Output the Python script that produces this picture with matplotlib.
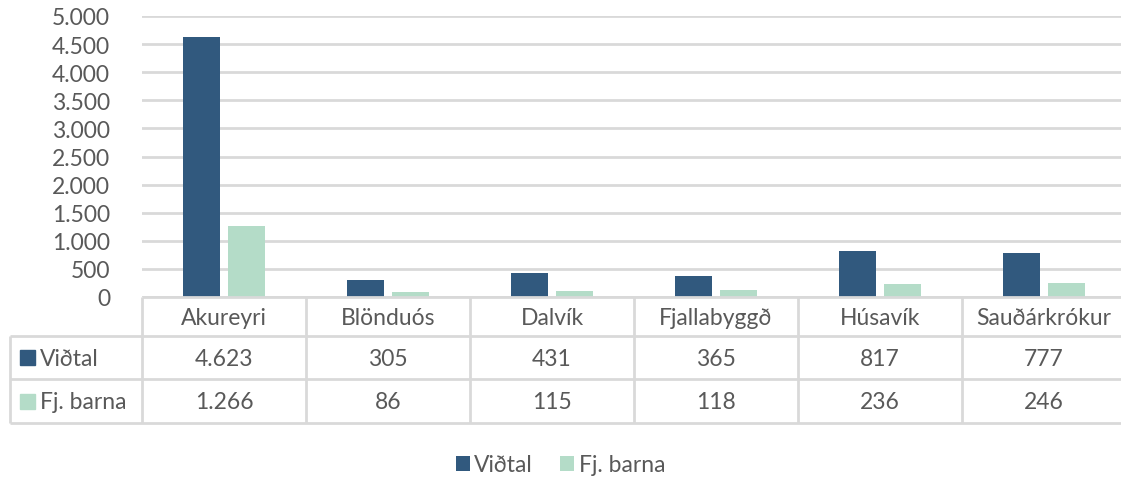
import matplotlib.pyplot as plt
from matplotlib.patches import Rectangle

# Data
towns = ['Akureyri', 'Blönduós', 'Dalvík', 'Fjallabyggð', 'Húsavík', 'Sauðárkrókur']
vidtal = [4623, 305, 431, 365, 817, 777]
born = [1266, 86, 115, 118, 236, 246]
series_names = ['Viðtal', 'Fj. barna']
yticks = [0, 500, 1000, 1500, 2000, 2500, 3000, 3500, 4000, 4500, 5000]

dark = '#31597E'
light = '#B4DCC8'
grid = '#D9D9D9'
txt = '#595959'
fs = 16.5

plt.rcParams['font.family'] = ['Lato', 'DejaVu Sans']

W, H = 1121, 481
fig = plt.figure(figsize=(W / 100, H / 100), dpi=100)


def fy(y):
    return 1 - y / H


# plot area in pixel coordinates
x0, x1 = 142, 1126
ytop, ybot = 17, 298
ax = fig.add_axes([x0 / W, fy(ybot), (x1 - x0) / W, (ybot - ytop) / H])

def fmt(v):
    return f'{v:,}'.replace(',', '.')

pos = list(range(len(towns)))
w = 0.226
off = 0.14
ax.bar([p - off for p in pos], vidtal, w, color=dark, zorder=3, label=series_names[0])
ax.bar([p + off for p in pos], born, w, color=light, zorder=3, label=series_names[1])
ax.set_xlim(-0.5, len(towns) - 0.5)
ax.set_ylim(0, 5000)
ax.set_yticks(yticks)
ax.set_yticklabels([fmt(v) for v in yticks], color=txt, fontsize=fs)
ax.tick_params(axis='y', length=0, pad=23)
ax.set_xticks([])
ax.yaxis.grid(True, color=grid, linewidth=2)
for s in ax.spines.values():
    s.set_visible(False)

# data table drawn in pixel coordinates
tab = fig.add_axes([0, 0, 1, 1], facecolor='none')
tab.set_xlim(0, W)
tab.set_ylim(H, 0)
tab.axis('off')

col_w = (x1 - x0) / len(towns)
rows = [298, 337, 380, 424]
lx = 10
lw = 2
for i, y in enumerate(rows):
    start = x0 if i == 0 else lx
    tab.plot([start, x1], [y, y], color=grid, lw=lw, solid_capstyle='butt')
for k in range(len(towns) + 1):
    xx = x0 + k * col_w
    tab.plot([xx, xx], [rows[0], rows[-1]], color=grid, lw=lw, solid_capstyle='butt')
tab.plot([lx, lx], [rows[1], rows[-1]], color=grid, lw=lw, solid_capstyle='butt')

for k, name in enumerate(towns):
    cx = x0 + (k + 0.5) * col_w
    tab.text(cx, (rows[0] + rows[1]) / 2 + 1, name, ha='center', va='center',
             fontsize=fs, color=txt)
    tab.text(cx, (rows[1] + rows[2]) / 2 + 1, fmt(vidtal[k]), ha='center', va='center',
             fontsize=fs, color=txt)
    tab.text(cx, (rows[2] + rows[3]) / 2 + 1, fmt(born[k]), ha='center', va='center',
             fontsize=fs, color=txt)

for r, (name, c) in enumerate(zip(series_names, [dark, light])):
    cy = (rows[r + 1] + rows[r + 2]) / 2
    tab.add_patch(Rectangle((20, cy - 7.5), 15, 15, color=c))
    tab.text(40, cy + 1, name, ha='left', va='center', fontsize=fs, color=txt)

# legend at bottom
leg = fig.legend(loc='center', bbox_to_anchor=(0.5, fy(466)), ncol=2, frameon=False,
                 handlelength=0.6, handleheight=0.6, handletextpad=0.2,
                 columnspacing=1.2, fontsize=fs, labelcolor=txt)

fig.savefig('out.png', dpi=100)
